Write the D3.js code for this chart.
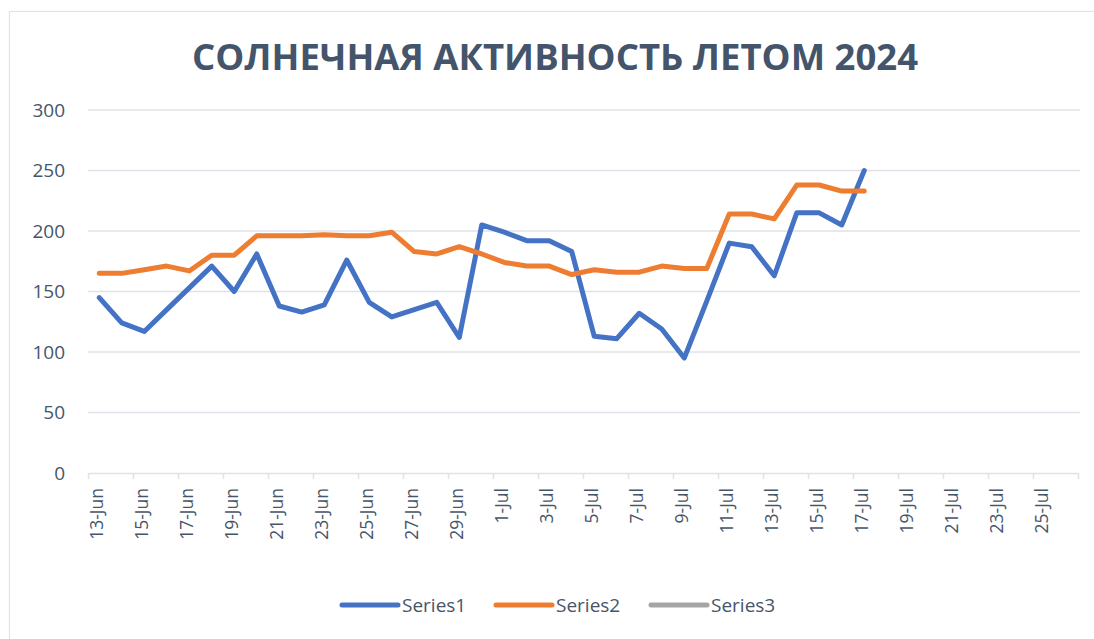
<!DOCTYPE html>
<meta charset="utf-8">
<script src="https://d3js.org/d3.v7.min.js"></script>
<style>
  body { margin: 0; background: #fff; }
  text { font-family: "Open Sans", sans-serif; fill: #475569; }
</style>
<div id="chart"></div>
<script>

// dates shown on the axis: 13 Jun - 26 Jul 2024, one band per day
var axisStart = "2024-06-13", axisEnd = "2024-07-27";
var tickLabels = ["13-Jun","15-Jun","17-Jun","19-Jun","21-Jun","23-Jun","25-Jun","27-Jun","29-Jun",
  "1-Jul","3-Jul","5-Jul","7-Jul","9-Jul","11-Jul","13-Jul","15-Jul","17-Jul","19-Jul","21-Jul","23-Jul","25-Jul"];

// daily values, 13 Jun .. 17 Jul
var series1 = [145,124,117,135,153,171,150,181,138,133,139,176,141,129,135,141,112,205,199,192,192,183,
  113,111,132,119,95,142,190,187,163,215,215,205,250];
var series2 = [165,165,168,171,167,180,180,196,196,196,197,196,196,199,183,181,187,181,174,171,171,164,
  168,166,166,171,169,169,214,214,210,238,238,233,233];
var series3 = [];

var seriesNames = ["Series1", "Series2", "Series3"];
var colors = ["#4472c4", "#ed7d31", "#a5a5a5"];
var yTicks = [0, 50, 100, 150, 200, 250, 300];

var W = 1094, H = 639;
var plotLeft = 88, plotRight = 1078, plotTop = 110, plotBottom = 473;

var svg = d3.select("#chart").append("svg")
  .attr("width", W).attr("height", H);

svg.append("rect").attr("width", W).attr("height", H).attr("fill", "#fff");
svg.append("rect")
  .attr("x", 9.5).attr("y", 11.5).attr("width", 1200).attr("height", 800)
  .attr("fill", "none").attr("stroke", "#dfe3ea").attr("stroke-width", 1.2);

var parse = d3.utcParse("%Y-%m-%d");
var t0 = parse(axisStart), t1 = parse(axisEnd);
var days = d3.utcDay.range(t0, t1);

var x = d3.scaleUtc().domain([t0, t1]).range([plotLeft, plotRight]);
var y = d3.scaleLinear().domain([0, 300]).range([plotBottom, plotTop]);
var dayW = x(d3.utcDay.offset(t0, 1)) - x(t0);
function cx(i) { return x(days[i]) + dayW / 2; }

// title
svg.append("text")
  .attr("x", 555).attr("y", 70)
  .attr("text-anchor", "middle")
  .style("font-size", "36.5px").style("font-weight", "bold").style("fill", "#44546a")
  .text("СОЛНЕЧНАЯ АКТИВНОСТЬ ЛЕТОМ 2024");

// gridlines + y labels
svg.append("g").selectAll("line").data(yTicks.filter(function(d) { return d > 0; }))
  .enter().append("line")
    .attr("x1", plotLeft).attr("x2", plotRight + 2)
    .attr("y1", function(d) { return y(d); }).attr("y2", function(d) { return y(d); })
    .attr("stroke", "#dee2e8").attr("stroke-width", 1.5);

svg.append("g").selectAll("text").data(yTicks)
  .enter().append("text")
    .attr("x", 65).attr("y", function(d) { return y(d); })
    .attr("dy", "0.35em").attr("text-anchor", "end")
    .style("font-size", "19px")
    .text(function(d) { return d; });

// x axis with ticks every 2 days at band edges
var xAxis = svg.append("g")
  .attr("transform", "translate(0," + plotBottom + ")")
  .call(d3.axisBottom(x)
    .tickValues(d3.utcDay.range(t0, d3.utcDay.offset(t1, 1), 2))
    .tickSize(6).tickSizeOuter(0).tickFormat(""));
xAxis.select(".domain").attr("stroke", "#dee2e8").attr("stroke-width", 1.5);
xAxis.selectAll(".tick line").attr("stroke", "#dee2e8").attr("stroke-width", 1.5);

svg.append("g").selectAll("text").data(tickLabels)
  .enter().append("text")
    .attr("transform", function(d, i) {
      return "translate(" + (cx(i * 2) - 2) + "," + (plotBottom + 15) + ") rotate(-90)";
    })
    .attr("dy", "0.35em").attr("text-anchor", "end")
    .style("font-size", "17.5px")
    .text(function(d) { return d; });

// lines
var line = d3.line()
  .x(function(d, i) { return cx(i); })
  .y(function(d) { return y(d); });

[series1, series2, series3].forEach(function(s, k) {
  if (!s.length) return;
  svg.append("path")
    .datum(s)
    .attr("d", line)
    .attr("fill", "none")
    .attr("stroke", colors[k])
    .attr("stroke-width", 5)
    .attr("stroke-linejoin", "round")
    .attr("stroke-linecap", "round");
});

// legend
var legX = [342, 496, 651];
var leg = svg.append("g").selectAll("g").data(seriesNames)
  .enter().append("g")
    .attr("transform", function(d, i) { return "translate(" + legX[i] + ",605)"; });
leg.append("line")
  .attr("x1", 0).attr("x2", 56).attr("y1", 0).attr("y2", 0)
  .attr("stroke", function(d, i) { return colors[i]; })
  .attr("stroke-width", 5).attr("stroke-linecap", "round");
leg.append("text")
  .attr("x", 60).attr("dy", "0.35em")
  .style("font-size", "19px")
  .text(function(d) { return d; });

</script>
